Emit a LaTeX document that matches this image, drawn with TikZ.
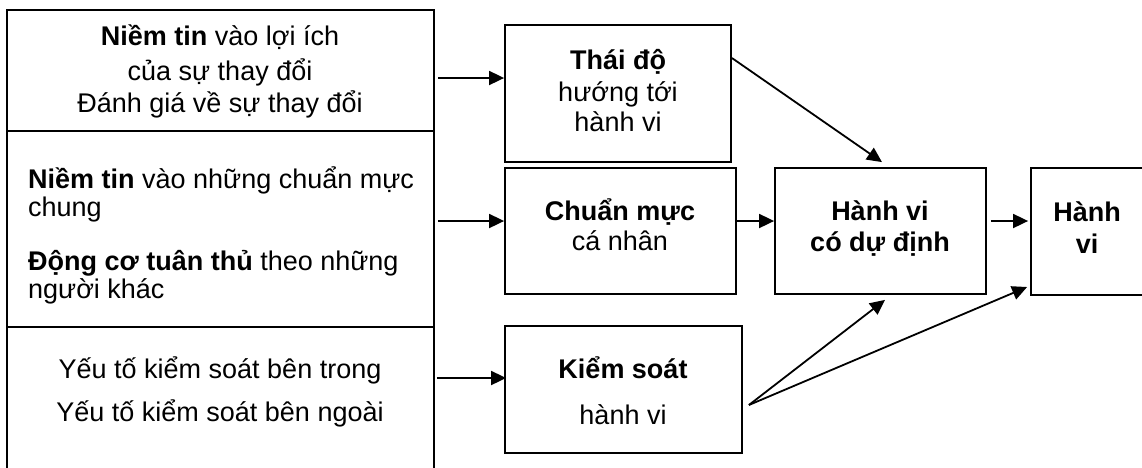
\documentclass[tikz,border=0pt]{standalone}
\usepackage{fontspec}
\setmainfont{Liberation Sans}
\usetikzlibrary{arrows.meta}
\begin{document}
\begin{tikzpicture}[x=1pt,y=-1pt,
  box/.style={draw, line width=1.8pt, rectangle, inner sep=0pt},
  txt/.style={inner sep=0pt, anchor=base, font=\fontsize{27}{31}\selectfont},
  txtl/.style={txt, anchor=base west},
  arr/.style={line width=1.8pt, -{Triangle[length=15pt,width=14pt]}}]
\useasboundingbox (0,0) rectangle (1142,467);
\clip (0,0) rectangle (1142,467);
% left column
\node[box, minimum width=427, minimum height=121] (c1) at (220.5,70.5) {};
\node[box, minimum width=427, minimum height=196] (c2) at (220.5,229) {};
\node[box, minimum width=427, minimum height=163] (c3) at (220.5,408.5) {};
% boxes
\node[box, minimum width=226, minimum height=137] (thaido) at (618,93.5) {};
\node[box, minimum width=231, minimum height=126] (chuan) at (620.5,231) {};
\node[box, minimum width=237, minimum height=127] (kiem) at (623.5,389.5) {};
\node[box, minimum width=211, minimum height=126] (hv) at (880.5,231) {};
\node[box, minimum width=129, minimum height=127] (hanh) at (1095.5,231.5) {};
% texts left column
\node[txt] (t11) at (220,45) {\textbf{Niềm tin} vào lợi ích};
\node[txt] (t12) at (220,80) {của sự thay đổi};
\node[txt] (t13) at (220,112) {Đánh giá về sự thay đổi};
\node[txtl] (t21) at (28,188) {\textbf{Niềm tin} vào những chuẩn mực};
\node[txtl] (t22) at (28,216) {chung};
\node[txtl] (t23) at (28,270) {\textbf{Động cơ tuân thủ} theo những};
\node[txtl] (t24) at (28,298) {người khác};
\node[txt] (t31) at (220,378) {Yếu tố kiểm soát bên trong};
\node[txt] (t32) at (220,421) {Yếu tố kiểm soát bên ngoài};
% texts boxes
\node[txt] (a1) at (618,69) {\textbf{Thái độ}};
\node[txt] (a2) at (618,101) {hướng tới};
\node[txt] (a3) at (618,131) {hành vi};
\node[txt] (b1) at (620,220) {\textbf{Chuẩn mực}};
\node[txt] (b2) at (620,250) {cá nhân};
\node[txt] (k1) at (623,378) {\textbf{Kiểm soát}};
\node[txt] (k2) at (623,424) {hành vi};
\node[txt] (h1) at (880,220) {\textbf{Hành vi}};
\node[txt] (h2) at (880,251) {\textbf{có dự định}};
\node[txt] (g1) at (1087,221) {\textbf{Hành}};
\node[txt] (g2) at (1087,253) {\textbf{vi}};
% arrows
\draw[arr] ([shift={(3,7.5)}]c1.east) -- ([shift={(0,-15.5)}]thaido.west);
\draw[arr] ([shift={(3,-8)}]c2.east) -- ([shift={(0,-10)}]chuan.west);
\draw[arr] ([shift={(2,-30.5)}]c3.east) -- ([shift={(2,-11.5)}]kiem.west);
\draw[arr] ([shift={(-2,-10)}]chuan.east) -- ([shift={(0,-10)}]hv.west);
\draw[arr] ([shift={(4,-10)}]hv.east) -- ([shift={(-2,-10.5)}]hanh.west);
\draw[arr] ([shift={(0,-35.5)}]thaido.east) -- ([shift={(1.5,-5)}]hv.north);
\coordinate (ks) at ([shift={(6,15.5)}]kiem.east);
\draw[arr] (ks) -- ([shift={(4.5,5)}]hv.south);
\draw[arr] (ks) -- ([shift={(-3,55.5)}]hanh.west);
\end{tikzpicture}
\end{document}
